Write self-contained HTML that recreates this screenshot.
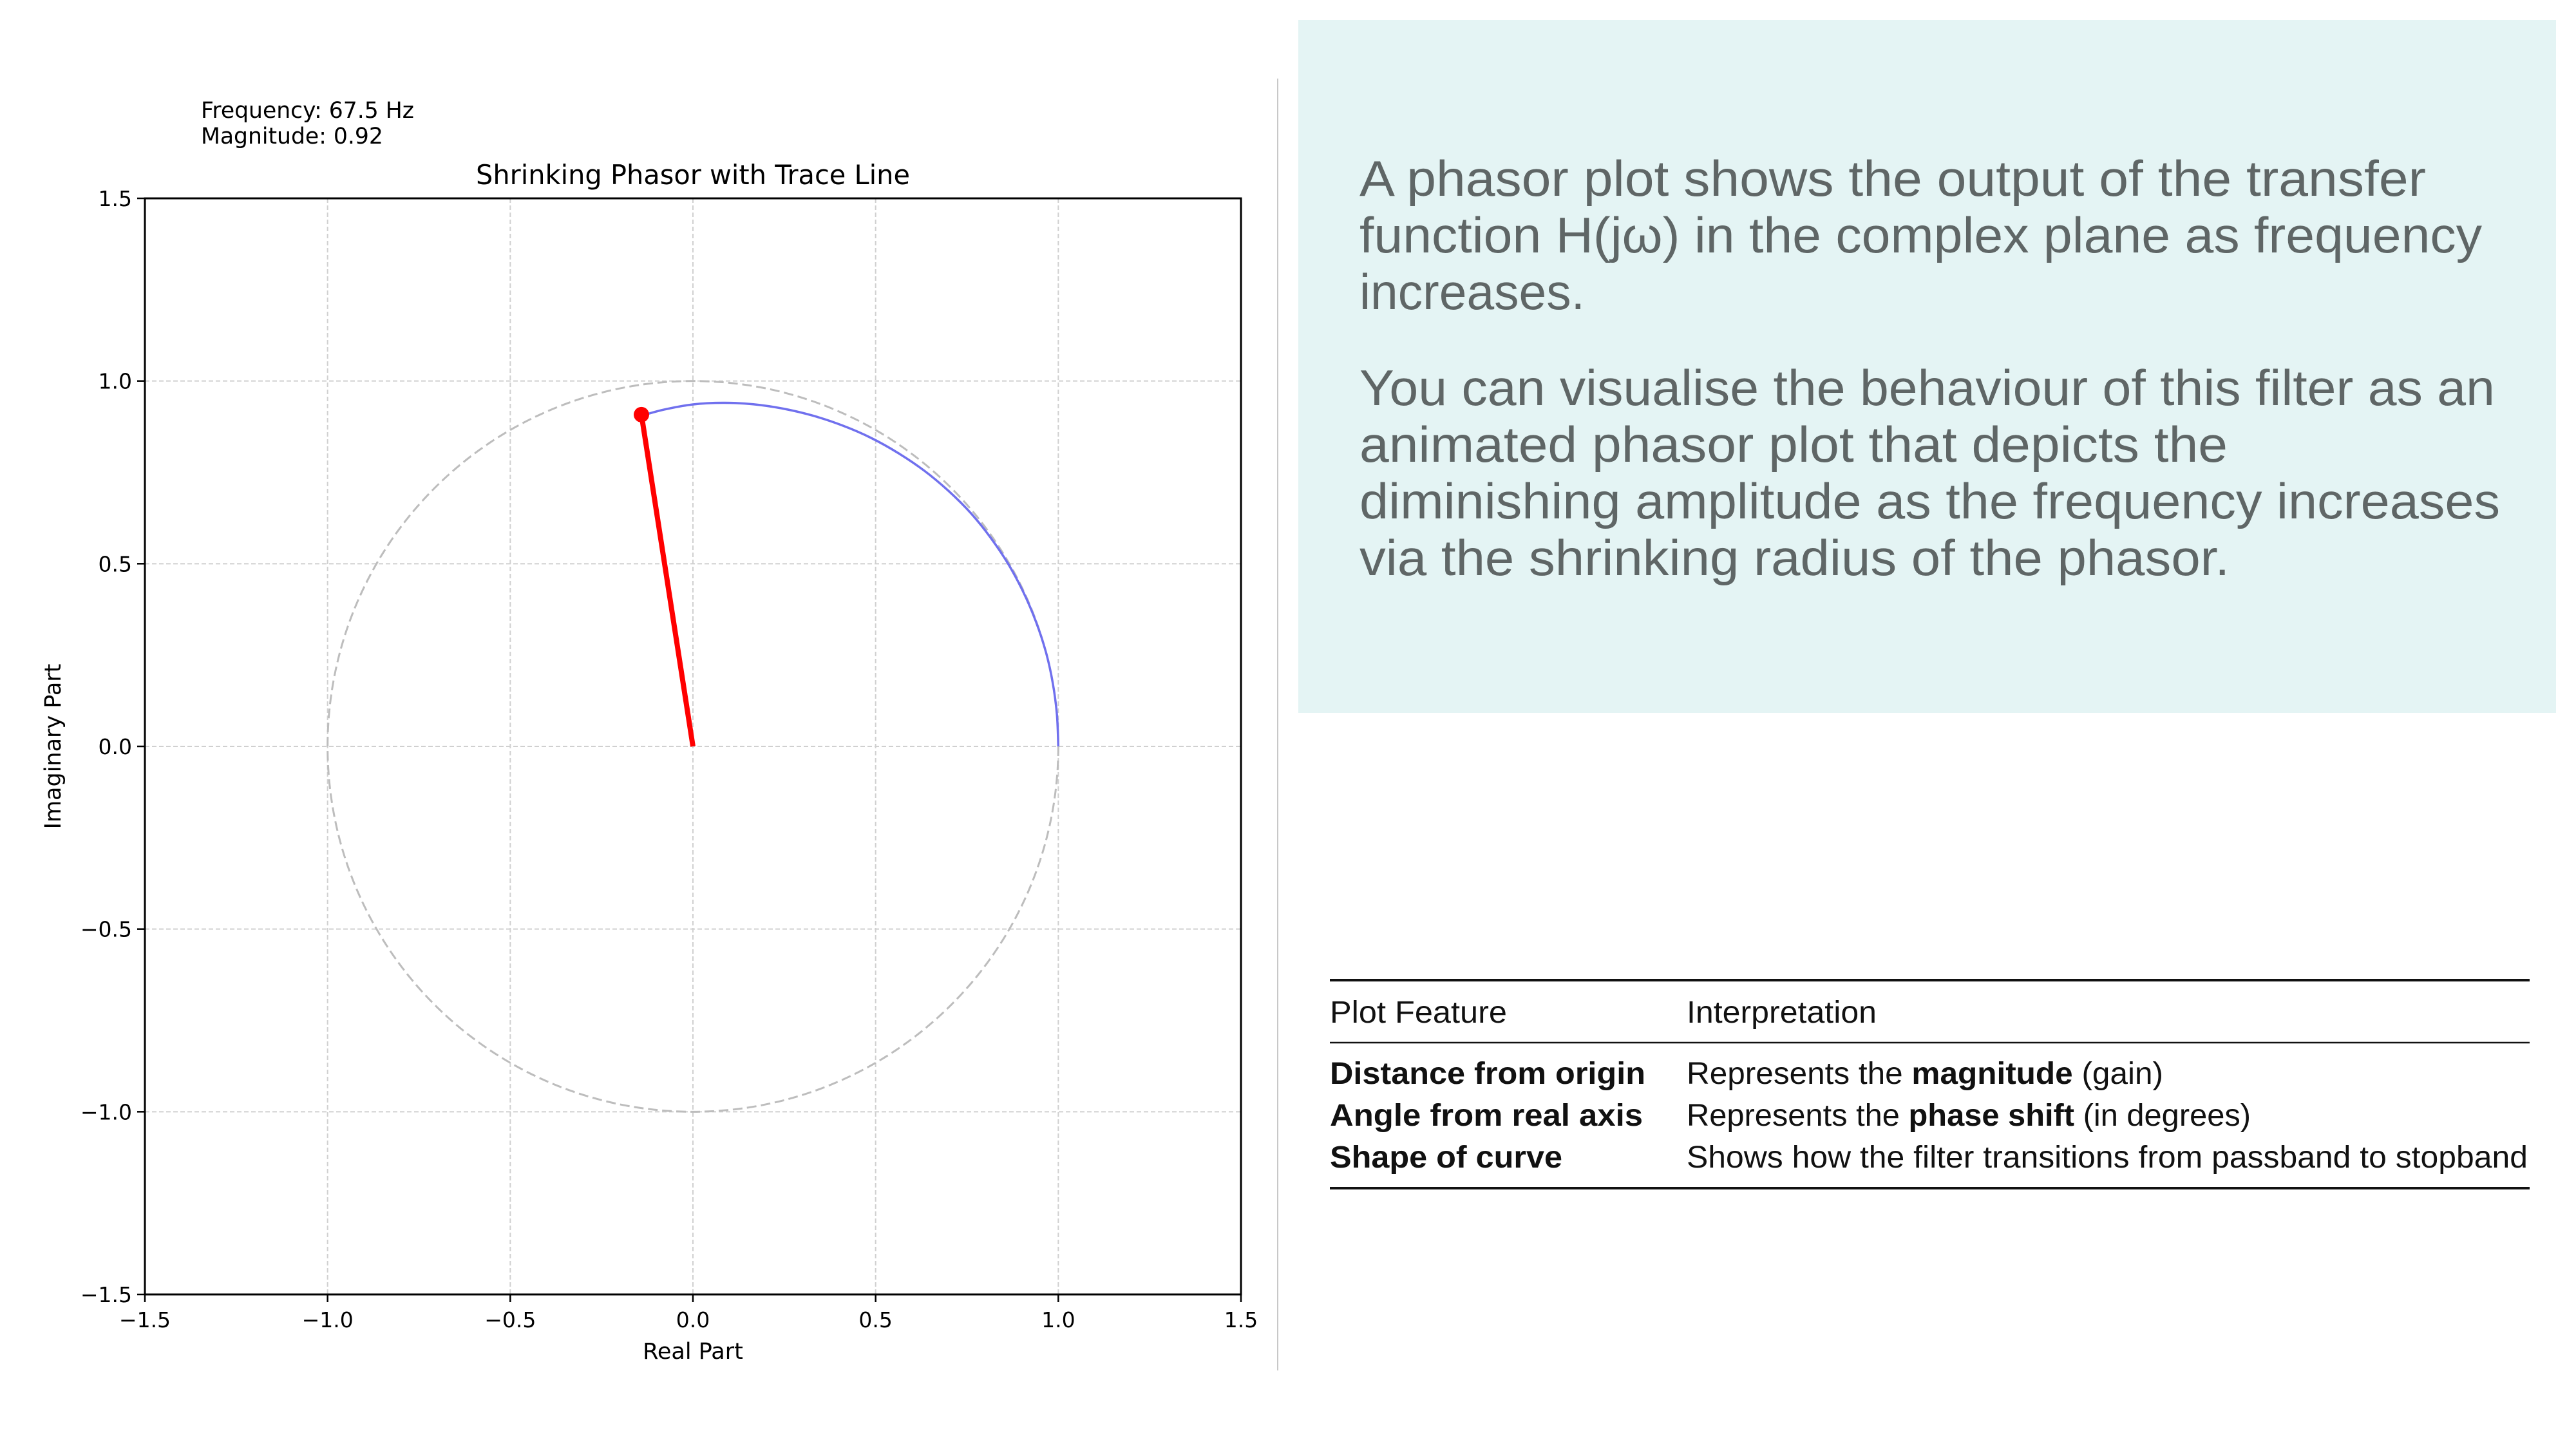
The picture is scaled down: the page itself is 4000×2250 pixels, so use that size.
<!DOCTYPE html>
<html><head><meta charset="utf-8">
<style>
html,body{margin:0;padding:0;background:#fff;}
body{width:4000px;height:2250px;overflow:hidden;position:relative;font-family:"Liberation Sans",sans-serif;}
svg{position:absolute;left:0;top:0;}
</style></head>
<body>
<svg id="root" width="4000" height="2250" viewBox="0 0 4000 2250" xmlns="http://www.w3.org/2000/svg">
  <g id="chart"></g>
  <line x1="1984" y1="122" x2="1984" y2="2128" stroke="#c8c8c8" stroke-width="2"/>
  <rect x="2016" y="31" width="1953" height="1076" fill="#e4f4f4"/>
  <g fill="#5f6666" font-family="'Liberation Sans',sans-serif" font-size="78">
    <text x="2111" y="304" textLength="1656" lengthAdjust="spacingAndGlyphs">A phasor plot shows the output of the transfer</text>
    <text x="2111" y="392" textLength="1743" lengthAdjust="spacingAndGlyphs">function H(jω) in the complex plane as frequency</text>
    <text x="2111" y="480" textLength="350" lengthAdjust="spacingAndGlyphs">increases.</text>
    <text x="2111" y="629" textLength="1763" lengthAdjust="spacingAndGlyphs">You can visualise the behaviour of this filter as an</text>
    <text x="2111" y="717" textLength="1348" lengthAdjust="spacingAndGlyphs">animated phasor plot that depicts the</text>
    <text x="2111" y="805" textLength="1771" lengthAdjust="spacingAndGlyphs">diminishing amplitude as the frequency increases</text>
    <text x="2111" y="893" textLength="1351" lengthAdjust="spacingAndGlyphs">via the shrinking radius of the phasor.</text>
  </g>
  <g font-family="'Liberation Sans',sans-serif" font-size="48" fill="#111">
    <line x1="2065" y1="1522" x2="3928" y2="1522" stroke="#111" stroke-width="4"/>
    <line x1="2065" y1="1619" x2="3928" y2="1619" stroke="#111" stroke-width="2.5"/>
    <line x1="2065" y1="1845" x2="3928" y2="1845" stroke="#111" stroke-width="4"/>
    <text x="2065" y="1588" textLength="275" lengthAdjust="spacingAndGlyphs">Plot Feature</text>
    <text x="2619" y="1588" textLength="295" lengthAdjust="spacingAndGlyphs">Interpretation</text>
    <text x="2065" y="1683" font-weight="bold" textLength="490" lengthAdjust="spacingAndGlyphs">Distance from origin</text>
    <text x="2619" y="1683" textLength="740" lengthAdjust="spacingAndGlyphs">Represents the <tspan font-weight="bold">magnitude</tspan> (gain)</text>
    <text x="2065" y="1748" font-weight="bold" textLength="486" lengthAdjust="spacingAndGlyphs">Angle from real axis</text>
    <text x="2619" y="1748" textLength="876" lengthAdjust="spacingAndGlyphs">Represents the <tspan font-weight="bold">phase shift</tspan> (in degrees)</text>
    <text x="2065" y="1813" font-weight="bold" textLength="361" lengthAdjust="spacingAndGlyphs">Shape of curve</text>
    <text x="2619" y="1813" textLength="1306" lengthAdjust="spacingAndGlyphs">Shows how the filter transitions from passband to stopband</text>
  </g>
</svg>
<script>
// data
const xTicks = [-1.5, -1.0, -0.5, 0.0, 0.5, 1.0, 1.5];
const yTicks = [-1.5, -1.0, -0.5, 0.0, 0.5, 1.0, 1.5];
const xTickLabels = ["\u22121.5","\u22121.0","\u22120.5","0.0","0.5","1.0","1.5"];
const yTickLabels = ["\u22121.5","\u22121.0","\u22120.5","0.0","0.5","1.0","1.5"];
const traceAngles = [0, 5, 10, 15, 20, 25, 30, 35, 40, 45, 50, 55, 60, 65, 70, 75, 80, 85, 90, 95, 98.8];
const traceMags = [1.0, 1.0, 1.0, 1.0, 0.999, 0.998, 0.997, 0.995, 0.993, 0.989, 0.985, 0.98, 0.975, 0.969, 0.963, 0.957, 0.951, 0.944, 0.936, 0.925, 0.916];
const phasorReal = [-0.141];
const phasorImag = [0.908];
const refRadius = [1.0];

const NS = "http://www.w3.org/2000/svg";
const g = document.getElementById('chart');
const L = 225, R = 1927, T = 308, B = 2010;
const xmin = -1.5, xmax = 1.5, ymin = -1.5, ymax = 1.5;
const sx = v => L + (v - xmin) / (xmax - xmin) * (R - L);
const sy = v => B - (v - ymin) / (ymax - ymin) * (B - T);
function mk(tag, attrs, parent) {
  const e = document.createElementNS(NS, tag);
  for (const k in attrs) e.setAttribute(k, attrs[k]);
  (parent || g).appendChild(e);
  return e;
}
const font = "'DejaVu Sans','Liberation Sans',sans-serif";

// grid
xTicks.forEach(v => {
  const e = mk('line', {x1: sx(v), x2: sx(v), y1: T, y2: B, stroke: '#d0d0d0', 'stroke-width': 2, 'stroke-dasharray': '7 4'});
  
  
});
yTicks.forEach(v => {
  const e = mk('line', {x1: L, x2: R, y1: sy(v), y2: sy(v), stroke: '#d0d0d0', 'stroke-width': 2, 'stroke-dasharray': '7 4'});
  
  
});

// reference circle
const circ = mk('circle', {cx: sx(0), cy: sy(0), r: sx(refRadius[0]) - sx(0), fill: 'none', stroke: '#bdbdbd', 'stroke-width': 3, 'stroke-dasharray': '15 7'});



// trace (smoothed with Catmull-Rom)
const pts = traceAngles.map((a, i) => {
  const r = traceMags[i], th = a * Math.PI / 180;
  return [sx(r * Math.cos(th)), sy(r * Math.sin(th))];
});
let d = 'M' + pts[0][0].toFixed(1) + ' ' + pts[0][1].toFixed(1);
for (let i = 0; i < pts.length - 1; i++) {
  const p0 = pts[Math.max(0, i - 1)], p1 = pts[i], p2 = pts[i + 1], p3 = pts[Math.min(pts.length - 1, i + 2)];
  const c1 = [p1[0] + (p2[0] - p0[0]) / 6, p1[1] + (p2[1] - p0[1]) / 6];
  const c2 = [p2[0] - (p3[0] - p1[0]) / 6, p2[1] - (p3[1] - p1[1]) / 6];
  d += 'C' + c1[0].toFixed(1) + ' ' + c1[1].toFixed(1) + ' ' + c2[0].toFixed(1) + ' ' + c2[1].toFixed(1) + ' ' + p2[0].toFixed(1) + ' ' + p2[1].toFixed(1);
}
const tr = mk('path', {d: d, fill: 'none', stroke: '#7070ee', 'stroke-width': 3.5, 'stroke-linejoin': 'round'});



// phasor
const ph = mk('line', {x1: sx(0), y1: sy(0), x2: sx(phasorReal[0]), y2: sy(phasorImag[0]), stroke: '#ff0000', 'stroke-width': 8});


const dot = mk('circle', {cx: sx(phasorReal[0]), cy: sy(phasorImag[0]), r: 12, fill: '#ff0000'});



// frame
const fr = mk('rect', {x: L, y: T, width: R - L, height: B - T, fill: 'none', stroke: '#000', 'stroke-width': 3});



// ticks
xTicks.forEach((v, i) => {
  mk('line', {x1: sx(v), x2: sx(v), y1: B, y2: B + 12, stroke: '#000', 'stroke-width': 2.5});
  const t = mk('text', {x: sx(v), y: B + 51, 'text-anchor': 'middle', 'font-family': font, 'font-size': 33, fill: '#000'});
  t.textContent = xTickLabels[i];
  
  
});
yTicks.forEach((v, i) => {
  mk('line', {x1: L - 12, x2: L, y1: sy(v), y2: sy(v), stroke: '#000', 'stroke-width': 2.5});
  const t = mk('text', {x: L - 20, y: sy(v) + 12, 'text-anchor': 'end', 'font-family': font, 'font-size': 33, fill: '#000'});
  t.textContent = yTickLabels[i];
  
  
});

// labels
const xl = mk('text', {x: (L + R) / 2, y: 2110, 'text-anchor': 'middle', 'font-family': font, 'font-size': 35, fill: '#000'});
xl.textContent = 'Real Part';


const yl = mk('text', {x: 0, y: 0, 'text-anchor': 'middle', 'font-family': font, 'font-size': 35, fill: '#000', transform: 'translate(94,' + ((T + B) / 2) + ') rotate(-90)'});
yl.textContent = 'Imaginary Part';


const ti = mk('text', {x: (L + R) / 2, y: 286, 'text-anchor': 'middle', 'font-family': font, 'font-size': 41.5, fill: '#000'});
ti.textContent = 'Shrinking Phasor with Trace Line';


const f1 = mk('text', {x: 312, y: 183, 'font-family': font, 'font-size': 34.6, fill: '#000'});
f1.textContent = 'Frequency: 67.5 Hz';


const f2 = mk('text', {x: 312, y: 223, 'font-family': font, 'font-size': 34.6, fill: '#000'});
f2.textContent = 'Magnitude: 0.92';


</script>
</body></html>
